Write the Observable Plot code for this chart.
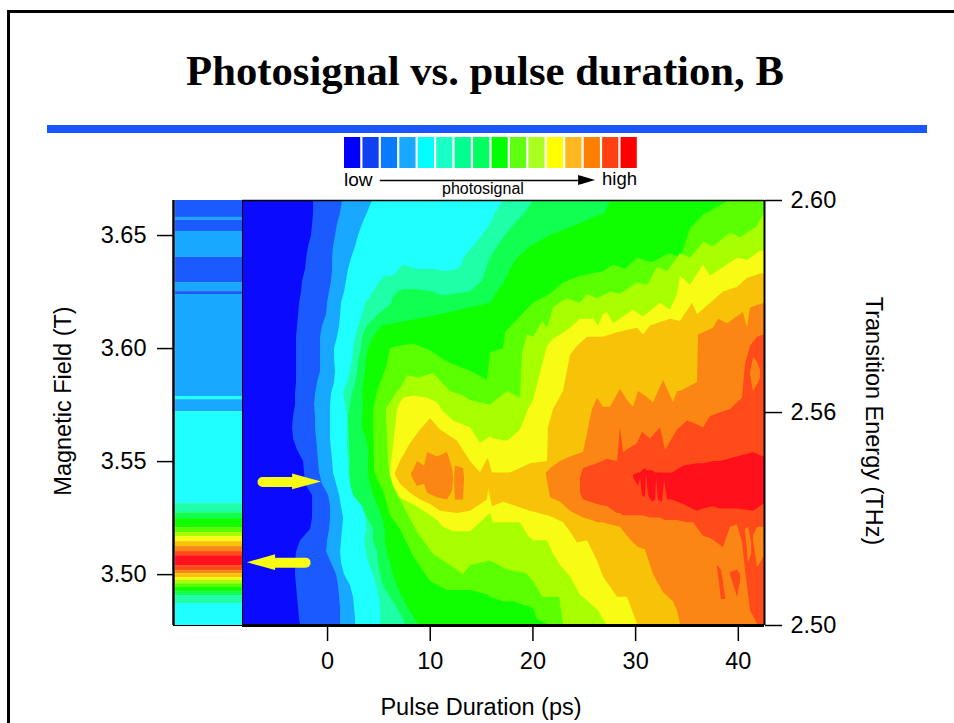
<!DOCTYPE html>
<html>
<head>
<meta charset="utf-8">
<script src="https://cdn.jsdelivr.net/npm/d3@7"></script>
<script src="https://cdn.jsdelivr.net/npm/@observablehq/plot@0.6"></script>
<style>
html,body{margin:0;padding:0;background:#fff}
#page{position:relative;width:954px;height:723px;overflow:hidden;font-family:"Liberation Sans",Arial,sans-serif;color:#000}
#page>*{position:absolute}
#topline{left:7px;top:10px;right:0;height:2.5px;background:#000}
#leftline{left:7px;top:10px;bottom:0;width:2.5px;background:#000}
#rule{left:47px;top:125px;width:880px;height:8px;background:#1a56ff}
#title{left:0;width:970px;top:43px;text-align:center;font:bold 42.7px "Liberation Serif","Times New Roman",serif;line-height:56px}
.lg{white-space:nowrap;line-height:1}
svg{display:block;background:transparent}
</style>
</head>
<body>
<div id="page">
<div id="topline"></div><div id="leftline"></div>
<div id="title">Photosignal vs. pulse duration, B</div>
<div id="rule"></div>
<div id="chart" style="left:0;top:0"></div>
<div id="legend" style="left:344px;top:137px"></div>
<div class="lg" style="left:344px;top:170px;font-size:19px">low</div>
<div class="lg" style="left:602px;top:170px;font-size:18.5px">high</div>
<div class="lg" style="left:442px;top:181px;font-size:16px">photosignal</div>
</div>
<script>
// colour levels of the contour plot
const levelColors = ["#0a0aff","#1a5aff","#18a8ff","#1fffff","#1fffa8","#10ff50","#10ff00","#5aff00","#a8ff00","#f8fb14","#f7c208","#fb8614","#ff4a1a","#ff101a"];
const legendColors = ["#0000ff","#1040f0","#0a7aff","#19a8ff","#00ffff","#19ffc8","#00ff90","#00ff60","#00ff00","#60ff10","#a8ff20","#ffff00","#ffb820","#ff8000","#ff4010","#ff0000"];

const xTicks = [0,10,20,30,40];
const yTicks = [3.50,3.55,3.60,3.65];
const rightTickFields = [3.6655,3.5717,3.4775];
const rightTickLabels = ["2.60","2.56","2.50"];

// left strip: field band edges (T) and level of each band
const stripEdges = [3.6655,3.6580,3.6567,3.6518,3.6403,3.6292,3.6252,3.6239,3.5788,3.5774,3.5721,3.5314,3.5274,3.5248,3.5208,3.5186,3.5168,3.5146,3.5124,3.5102,3.5084,3.5040,3.5018,3.5004,3.4987,3.4974,3.4960,3.4943,3.4925,3.4907,3.4872,3.4775];
const stripLevels = [1,2,1,2,1,2,1,2,3,2,3,4,5,6,7,8,9,10,11,12,13,12,11,10,9,8,7,6,5,4,3];

// low levels: onset pulse duration (ps) per field row
const fields = [3.6655,3.66,3.655,3.65,3.645,3.64,3.635,3.63,3.625,3.62,3.615,3.61,3.605,3.60,3.595,3.59,3.585,3.58,3.575,3.57,3.565,3.56,3.555,3.55,3.545,3.54,3.535,3.53,3.525,3.52,3.515,3.51,3.505,3.50,3.495,3.49,3.485,3.48,3.4775];
const onset1 = [-1.36,-1.36,-1.46,-1.56,-1.85,-2.04,-2.14,-2.43,-2.53,-2.73,-2.82,-2.92,-3.02,-3.02,-3.02,-3.02,-3.02,-3.12,-3.12,-3.31,-3.41,-3.31,-2.92,-2.34,-2.24,-2.14,-1.46,-1.46,-1.46,-1.66,-2.63,-3.02,-3.12,-3.12,-3.02,-2.92,-2.82,-2.73,-2.63];
const onset2 = [1.46,1.27,.97,.78,.58,.49,.49,.39,.19,0,-.1,-.49,-.68,-.68,-.68,-.68,-.97,-1.17,-1.27,-1.17,-1.17,-1.07,-.97,-.88,-.78,-.49,.1,.29,.29,.19,0,-.1,.39,.88,1.07,1.17,1.27,1.27,1.27];
const onset3 = [4.38,3.89,3.41,3.02,2.73,2.34,2.04,1.85,1.66,1.36,1.27,1.17,.97,.68,.68,.78,.68,.39,.29,.29,.29,.29,.39,.49,.58,.88,1.17,1.36,1.56,1.46,1.36,1.27,1.36,1.66,2.24,2.53,2.63,2.73,2.73];
const onset4 = [17.14,16.36,15.87,15.09,14.22,13.24,13.0,5.16,4.48,3.7,3.41,3.02,2.73,2.53,2.43,2.24,1.95,1.56,1.75,1.95,1.95,1.95,1.95,2.04,2.14,2.24,2.73,3.41,3.7,3.8,3.6,3.8,3.99,4.48,4.77,5.06,5.16,5.16,5.16];
const onset5 = [20.06,19.28,18.21,17.33,16.55,15.87,15.48,15.09,13.92,6.33,4.97,3.89,3.41,3.31,3.02,2.92,2.73,2.43,2.24,2.04,2.04,2.14,2.14,2.24,2.14,2.24,2.53,3.41,3.89,4.48,4.48,4.87,4.97,5.16,5.45,6.13,6.82,7.4,7.59];
const onset6 = [27.56,27.07,24.44,21.71,19.77,18.5,17.82,17.33,16.55,15.87,11.0,5.36,4.48,3.99,3.8,3.7,3.51,3.41,3.51,3.41,3.41,3.8,3.99,3.99,3.99,4.19,4.48,4.97,5.36,5.65,5.65,5.84,6.13,6.43,6.82,7.3,7.89,8.57,8.86];

// high levels: [pulse duration ps, upper field T, lower field T]
const patch4 = [[5.45,3.632,3.626],[6.43,3.632,3.626],[7.4,3.637,3.626],[8.76,3.635,3.626],[10.32,3.635,3.626],[11.68,3.634,3.626],[12.66,3.635,3.626],[13.63,3.640,3.626],[14.22,3.643,3.626]];
const patch5 = [[6.33,3.622,3.612],[6.82,3.625,3.612],[7.4,3.626,3.612],[8.76,3.626,3.612],[10.32,3.625,3.612],[11.68,3.622,3.612],[12.66,3.624,3.612],[13.92,3.625,3.612]];
const band7 = [[4.48,3.573,3.572],[4.58,3.575,3.546],[4.87,3.581,3.542],[5.45,3.588,3.537],[5.84,3.593,3.531],[6.13,3.600,3.526],[7.1,3.601,3.520],[8.37,3.602,3.508],[10.03,3.599,3.497],[11.68,3.594,3.493],[13.92,3.590,3.493],[15.58,3.586,3.491],[15.87,3.598,3.490],[17.14,3.600,3.488],[17.33,3.607,3.488],[18.11,3.611,3.488],[20.06,3.620,3.485],[20.45,3.621,3.480],[21.71,3.624,3.4775],[22.98,3.629,3.4775],[24.63,3.632,3.4775],[26.87,3.634,3.4775],[27.85,3.637,3.4775],[29.0,3.635,3.4775],[30.18,3.640,3.4775],[31.65,3.638,3.4775],[33.3,3.642,3.4775],[34.4,3.640,3.4775],[35.35,3.653,3.4775],[36.61,3.659,3.4775],[38.95,3.665,3.4775],[42.55,3.6655,3.4775]];
const band8 = [[5.74,3.573,3.570],[5.94,3.575,3.550],[6.13,3.576,3.543],[6.82,3.581,3.535],[7.1,3.582,3.533],[7.79,3.588,3.527],[8.86,3.587,3.518],[10.32,3.589,3.509],[11.98,3.581,3.504],[13.24,3.579,3.500],[13.92,3.577,3.504],[15.87,3.575,3.506],[17.53,3.581,3.502],[18.79,3.578,3.501],[18.99,3.598,3.501],[19.47,3.606,3.500],[20.06,3.605,3.497],[20.95,3.612,3.490],[21.42,3.609,3.490],[22.01,3.618,3.490],[22.6,3.620,3.490],[22.98,3.621,3.478],[23.37,3.622,3.4775],[24.63,3.620,3.4775],[25.32,3.624,3.4775],[26.29,3.622,3.4775],[27.56,3.625,3.4775],[28.53,3.624,3.4775],[30.18,3.629,3.4775],[31.16,3.628,3.4775],[32.13,3.636,3.4775],[33.1,3.634,3.4775],[34.37,3.642,3.4775],[35.35,3.640,3.4775],[36.61,3.647,3.4775],[37.59,3.645,3.4775],[39.24,3.651,3.4775],[40.22,3.649,3.4775],[41.87,3.654,3.4775],[42.45,3.659,3.4775],[42.55,3.660,3.4775]];
const band9 = [[6.13,3.546,3.544],[6.43,3.557,3.539],[6.82,3.573,3.536],[7.1,3.576,3.534],[7.4,3.578,3.533],[8.37,3.579,3.531],[9.74,3.578,3.527],[10.71,3.576,3.524],[11.3,3.572,3.521],[12.27,3.568,3.519],[13.92,3.565,3.519],[14.9,3.558,3.523],[15.87,3.561,3.527],[16.16,3.560,3.523],[17.53,3.559,3.523],[18.79,3.564,3.523],[19.57,3.573,3.517],[20.06,3.577,3.515],[21.42,3.601,3.515],[22.01,3.604,3.509],[22.69,3.606,3.504],[23.66,3.609,3.499],[24.63,3.613,3.491],[25.9,3.613,3.486],[26.39,3.610,3.484],[26.87,3.615,3.480],[27.26,3.616,3.4775],[27.85,3.611,3.4775],[29.8,3.617,3.4775],[30.77,3.614,3.4775],[32.42,3.620,3.4775],[33.4,3.617,3.4775],[34.08,3.624,3.4775],[34.37,3.632,3.4775],[35.35,3.628,3.4775],[36.61,3.637,3.4775],[37.29,3.632,3.4775],[39.92,3.640,3.4775],[40.89,3.639,3.4775],[42.16,3.643,3.4775],[42.55,3.643,3.4775]];
const band10 = [[6.62,3.545,3.544],[7.1,3.550,3.540],[8.08,3.558,3.536],[9.06,3.564,3.533],[10.03,3.569,3.531],[11.0,3.564,3.528],[12.66,3.559,3.527],[13.92,3.550,3.528],[14.9,3.545,3.531],[15.58,3.551,3.533],[15.68,3.551,3.538],[16.07,3.545,3.530],[17.14,3.545,3.532],[17.82,3.545,3.531],[19.77,3.549,3.528],[21.42,3.550,3.526],[21.52,3.565,3.526],[22.01,3.573,3.525],[22.98,3.581,3.523],[23.66,3.597,3.519],[24.34,3.601,3.514],[25.32,3.605,3.515],[26.29,3.605,3.506],[26.87,3.605,3.499],[28.24,3.607,3.490],[29.21,3.608,3.490],[30.18,3.609,3.478],[30.77,3.606,3.4775],[31.45,3.610,3.4775],[33.4,3.613,3.4775],[34.37,3.612,3.4775],[35.54,3.620,3.4775],[36.03,3.615,3.4775],[38.56,3.625,3.4775],[39.92,3.627,3.4775],[40.89,3.631,3.4775],[42.16,3.633,3.4775],[42.55,3.633,3.4775]];
const band11a = [[8.18,3.545,3.544],[8.37,3.546,3.542],[8.76,3.550,3.539],[9.45,3.548,3.540],[9.74,3.554,3.536],[10.71,3.552,3.534],[11.68,3.554,3.533],[12.17,3.547,3.537],[12.27,3.543,3.542]];
const band11b = [[12.37,3.543,3.542],[12.46,3.548,3.533],[13.24,3.547,3.533],[13.34,3.543,3.542]];
const band11 = [[21.32,3.545,3.544],[21.71,3.547,3.534],[22.69,3.550,3.532],[23.66,3.552,3.528],[24.93,3.554,3.525],[25.8,3.573,3.524],[26.29,3.578,3.523],[26.87,3.574,3.523],[27.56,3.574,3.522],[28.53,3.582,3.521],[29.21,3.577,3.517],[29.8,3.574,3.514],[30.28,3.581,3.512],[30.96,3.579,3.511],[31.74,3.576,3.500],[32.72,3.586,3.492],[33.69,3.576,3.488],[34.08,3.581,3.484],[34.37,3.581,3.478],[36.03,3.585,3.4775],[36.13,3.606,3.4775],[37.59,3.609,3.4775],[38.07,3.613,3.4775],[38.95,3.611,3.4775],[40.5,3.616,3.4775],[40.89,3.609,3.4775],[41.19,3.618,3.4775],[42.55,3.620,3.4775]];
const band12 = [[24.63,3.543,3.536],[24.93,3.547,3.533],[26.29,3.549,3.531],[27.26,3.551,3.530],[28.24,3.550,3.527],[28.53,3.565,3.527],[28.82,3.554,3.526],[30.18,3.558,3.526],[30.67,3.563,3.526],[31.45,3.560,3.525],[32.42,3.565,3.525],[32.91,3.555,3.524],[34.08,3.564,3.524],[35.05,3.568,3.523],[35.64,3.567,3.523],[36.61,3.565,3.517],[37.29,3.570,3.516],[38.56,3.572,3.512],[39.24,3.573,3.521],[39.92,3.576,3.522],[40.41,3.578,3.514],[40.7,3.593,3.502],[41.19,3.601,3.484],[41.87,3.605,3.478],[42.55,3.606,3.4775]];
const spot11a = [[41.19,3.589,3.588],[41.48,3.596,3.581],[41.87,3.594,3.584],[42.16,3.590,3.587]];
const spot11b = [[40.7,3.520,3.519],[41.0,3.521,3.505],[41.3,3.514,3.509]];
const spot11c = [[41.48,3.517,3.515],[41.87,3.521,3.503],[42.55,3.521,3.508]];
const spot12a = [[37.98,3.504,3.503],[38.36,3.502,3.489],[38.76,3.490,3.489]];
const spot12b = [[39.24,3.501,3.500],[39.92,3.502,3.490],[40.22,3.500,3.497]];
const band13 = [[29.8,3.544,3.543],[30.28,3.545,3.539],[30.48,3.545,3.543],[30.67,3.546,3.535],[30.96,3.547,3.534],[31.06,3.546,3.545],[31.26,3.546,3.535],[31.65,3.546,3.532],[31.94,3.545,3.533],[32.04,3.545,3.543],[32.23,3.545,3.533],[32.62,3.545,3.532],[32.81,3.545,3.542],[33.1,3.545,3.533],[33.59,3.545,3.533],[34.66,3.548,3.531],[36.03,3.549,3.528],[36.61,3.549,3.529],[37.59,3.550,3.530],[38.27,3.550,3.529],[39.92,3.552,3.529],[41.48,3.554,3.528],[42.45,3.552,3.531],[42.55,3.552,3.531]];

// yellow arrows
const arrowRightShaft = [[-6.33,3.541],[-3.4,3.541]];
const arrowRightHead = [[-3.4,3.5445,3.5375],[-0.58,3.541,3.541]];
const arrowLeftShaft = [[-5.06,3.5053],[-2.14,3.5053]];
const arrowLeftHead = [[-7.8,3.5053,3.5053],[-5.06,3.5088,3.5018]];

const xMin=-15, xDataMin=-8.28, xMax=42.55, yMin=3.4775, yMax=3.6655, stripLeft=-14.8;
const levels = levelColors.map((_,i)=>i);

const onsetMark = (lvl,arr)=>Plot.areaX(fields.map((f,i)=>[arr[i],f]),{x1:d=>d[0],x2:()=>xMax,y:d=>d[1],fill:()=>lvl});
const bandMark = (lvl,arr)=>Plot.areaY(arr,{x:d=>d[0],y1:d=>d[1],y2:d=>d[2],fill:()=>lvl});

const chart = Plot.plot({
  width:954,height:723,marginLeft:173,marginRight:190,marginTop:200,marginBottom:98,
  style:{background:"transparent",fontFamily:"'Liberation Sans',Arial,sans-serif",overflow:"visible"},
  x:{domain:[xMin,xMax]},
  y:{domain:[yMin,yMax]},
  color:{type:"ordinal",domain:levels,range:levelColors},
  marks:[
    Plot.rect(stripLevels.map((l,i)=>({l,y1:stripEdges[i+1],y2:stripEdges[i]})),{x1:()=>stripLeft,x2:()=>xDataMin,y1:"y1",y2:"y2",fill:"l"}),
    Plot.rect([0],{x1:()=>xDataMin,x2:()=>xMax,y1:()=>yMin,y2:()=>yMax,fill:()=>0}),
    onsetMark(1,onset1),onsetMark(2,onset2),onsetMark(3,onset3),onsetMark(4,onset4),bandMark(4,patch4),onsetMark(5,onset5),bandMark(5,patch5),onsetMark(6,onset6),
    bandMark(7,band7),bandMark(8,band8),bandMark(9,band9),bandMark(10,band10),
    bandMark(11,band11a),bandMark(11,band11b),bandMark(11,band11),
    bandMark(12,band12),bandMark(11,spot11a),bandMark(11,spot11b),bandMark(11,spot11c),bandMark(12,spot12a),bandMark(12,spot12b),
    bandMark(13,band13),
    Plot.line(arrowRightShaft,{x:d=>d[0],y:d=>d[1],stroke:"#f8fb14",strokeWidth:10,strokeLinecap:"round"}),
    Plot.areaY(arrowRightHead,{x:d=>d[0],y1:d=>d[1],y2:d=>d[2],fill:"#f8fb14"}),
    Plot.line(arrowLeftShaft,{x:d=>d[0],y:d=>d[1],stroke:"#f8fb14",strokeWidth:10,strokeLinecap:"round"}),
    Plot.areaY(arrowLeftHead,{x:d=>d[0],y1:d=>d[1],y2:d=>d[2],fill:"#f8fb14"}),
    Plot.ruleX([xDataMin],{y1:yMin,y2:yMax,stroke:"#000",strokeWidth:1}),
    Plot.ruleX([xMin],{y1:yMin,y2:yMax,stroke:"#000",strokeWidth:2.5}),
    Plot.ruleX([xMax],{y1:yMin,y2:yMax,stroke:"#000",strokeWidth:2}),
    Plot.ruleY([yMax],{x1:xDataMin,x2:xMax,stroke:"#000",strokeWidth:1.5}),
    Plot.ruleY([yMin],{x1:xDataMin,x2:xMax,stroke:"#000",strokeWidth:3}),
    Plot.ruleY([yMin],{x1:xMin,x2:xDataMin,stroke:"#000",strokeWidth:1}),
    Plot.axisX({ticks:xTicks,tickSize:16,tickPadding:11,fontSize:23.5,strokeWidth:1.5,label:null,tickFormat:d=>String(d)}),
    Plot.axisY({ticks:yTicks,anchor:"left",tickSize:16,tickPadding:11,fontSize:23.5,strokeWidth:1.5,label:null,tickFormat:d=>d.toFixed(2)}),
    Plot.axisY({ticks:rightTickFields,anchor:"right",tickSize:17,tickPadding:9,fontSize:23.5,strokeWidth:1.5,label:null,tickFormat:d=>rightTickLabels[rightTickFields.indexOf(d)]}),
    Plot.text(["Pulse Duration (ps)"],{frameAnchor:"bottom",dx:12,dy:89,fontSize:23.5,textAnchor:"middle"}),
    Plot.text(["Magnetic Field (T)"],{frameAnchor:"left",dx:-110,dy:-12,rotate:-90,fontSize:23.5,textAnchor:"middle"}),
    Plot.text(["Transition Energy (THz)"],{frameAnchor:"right",dx:109,dy:8,rotate:90,fontSize:23.5,textAnchor:"middle"})
  ]
});
document.getElementById("chart").appendChild(chart);

// legend swatches and arrow
const legendShaft = [[1.95,43],[12.95,43]];
const legendHead = [[12.7,38,48],[13.62,43,43]];
const legend = Plot.plot({
  width:295,height:62,margin:0,
  x:{domain:[0,16],axis:null},
  y:{domain:[62,0],axis:null},
  color:{type:"ordinal",domain:legendColors.map((_,i)=>i),range:legendColors},
  style:{background:"transparent"},
  marks:[
    Plot.rect(legendColors.map((c,i)=>i),{x1:d=>d,x2:d=>d+0.88,y1:()=>0,y2:()=>31,fill:d=>d}),
    Plot.line(legendShaft,{x:d=>d[0],y:d=>d[1],stroke:"#000",strokeWidth:1.5}),
    Plot.areaY(legendHead,{x:d=>d[0],y1:d=>d[1],y2:d=>d[2],fill:"#000"})
  ]
});
document.getElementById("legend").appendChild(legend);
</script>
</body>
</html>
